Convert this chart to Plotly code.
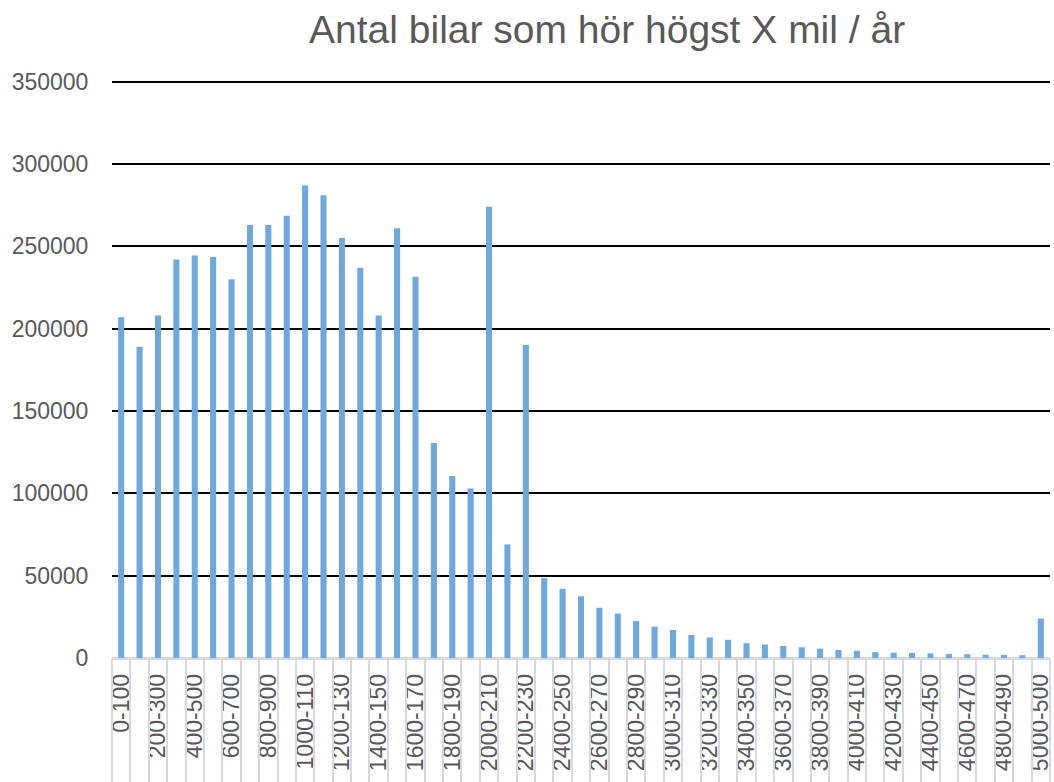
import plotly.graph_objects as go

# Categories (mil / år intervals)
categories = [
    "0-100", "100-200", "200-300", "300-400", "400-500", "500-600", "600-700",
    "700-800", "800-900", "900-1000", "1000-1100", "1100-1200", "1200-1300",
    "1300-1400", "1400-1500", "1500-1600", "1600-1700", "1700-1800", "1800-1900",
    "1900-2000", "2000-2100", "2100-2200", "2200-2300", "2300-2400", "2400-2500",
    "2500-2600", "2600-2700", "2700-2800", "2800-2900", "2900-3000", "3000-3100",
    "3100-3200", "3200-3300", "3300-3400", "3400-3500", "3500-3600", "3600-3700",
    "3700-3800", "3800-3900", "3900-4000", "4000-4100", "4100-4200", "4200-4300",
    "4300-4400", "4400-4500", "4500-4600", "4600-4700", "4700-4800", "4800-4900",
    "4900-5000", "5000-5000+",
]

# Displayed (truncated) tick labels, every other category
tick_labels = [
    "0-100", "", "200-300", "", "400-500", "", "600-700", "", "800-900", "",
    "1000-110", "", "1200-130", "", "1400-150", "", "1600-170", "", "1800-190", "",
    "2000-210", "", "2200-230", "", "2400-250", "", "2600-270", "", "2800-290", "",
    "3000-310", "", "3200-330", "", "3400-350", "", "3600-370", "", "3800-390", "",
    "4000-410", "", "4200-430", "", "4400-450", "", "4600-470", "", "4800-490", "",
    "5000-500",
]

# Number of cars
values = [
    207000, 189000, 208000, 242000, 244500, 243500, 230000, 263000, 263000, 268500,
    287000, 281000, 255000, 237000, 208000, 261000, 231500, 130500, 110500, 103000,
    274000, 69000, 190000, 48500, 42000, 37500, 30500, 27000, 22500, 19000,
    17000, 14000, 12500, 11000, 9000, 8200, 7300, 6500, 5700, 4900,
    4400, 3600, 3200, 3100, 2800, 2400, 2300, 2000, 1900, 1700,
    24000,
]

y_ticks = [0, 50000, 100000, 150000, 200000, 250000, 300000, 350000]

TEXT = "#595959"
FONT = "Liberation Sans, Arial, sans-serif"

fig = go.Figure()
fig.add_trace(go.Bar(
    x=categories, y=values,
    marker=dict(color="#6FA8DC", line=dict(width=0)),
    showlegend=False,
))
# invisible helper trace on overlay axis used for category separators
fig.add_trace(go.Scatter(
    x=list(range(len(values))), y=values, xaxis="x2",
    mode="markers", marker=dict(opacity=0), hoverinfo="skip", showlegend=False,
))

n = len(categories)
fig.update_layout(
    width=1054, height=782,
    margin=dict(l=112, r=4, t=80, b=124),
    paper_bgcolor="white", plot_bgcolor="white",
    font=dict(family=FONT, color=TEXT),
    bargap=0.67,
    title=dict(
        text="Antal bilar som hör högst X mil / år",
        x=0.576, xanchor="center", xref="container",
        y=0.963, yanchor="middle", yref="container",
        font=dict(size=39, color=TEXT, family=FONT),
    ),
    xaxis=dict(
        type="category", categoryorder="array", categoryarray=categories,
        range=[-0.5, n - 0.5],
        tickmode="array", tickvals=categories, ticktext=tick_labels,
        tickangle=-90, tickfont=dict(size=23, color=TEXT),
        ticks="outside", ticklen=5, tickcolor="rgba(0,0,0,0)",
        showline=True, linecolor="#d9d9d9", linewidth=1.5,
        showgrid=False, automargin=False,
    ),
    xaxis2=dict(
        overlaying="x", anchor="y", side="bottom",
        type="linear", range=[-0.5, n - 0.5],
        tickmode="linear", tick0=-0.5, dtick=1,
        ticks="outside", ticklen=124, tickcolor="#d9d9d9", tickwidth=1.5,
        showticklabels=False, showgrid=False, showline=False, zeroline=False,
        automargin=False,
    ),
    yaxis=dict(
        range=[0, 351000],
        tickmode="array", tickvals=y_ticks,
        ticktext=[str(v) for v in y_ticks],
        tickfont=dict(size=23, color=TEXT),
        ticks="outside", ticklen=18, tickcolor="rgba(0,0,0,0)",
        showgrid=True, gridcolor="black", gridwidth=2,
        zeroline=True, zerolinecolor="#d9d9d9", zerolinewidth=1.5,
        showline=False, automargin=False,
    ),
)

fig.write_html(
    "out.html",
    config={"displayModeBar": False},
    post_script="document.body.style.margin='0';document.body.style.overflow='hidden';",
)
